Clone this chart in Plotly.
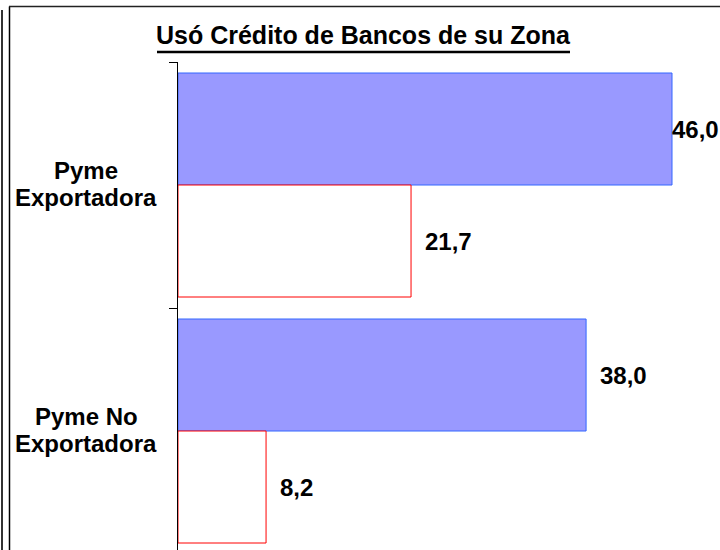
import plotly.graph_objects as go

# ---- data ----
categories = ["Pyme<br>Exportadora", "Pyme No<br>Exportadora"]
series_blue = [46.0, 38.0]
series_red = [21.7, 8.2]
title_text = "Usó Crédito de Bancos de su Zona"

# ---- layout geometry ----
W, H = 720, 550
ML, MR, MT, MB = 178, 0, 62, 0
PW, PH = W - ML - MR, H - MT - MB
PX_PER_UNIT = 494 / 46.0
XMAX = PW / PX_PER_UNIT
CAT_PX = 246.0
Y_BOTTOM = -0.5 + PH / CAT_PX
BARGAP = 1 - 224 / CAT_PX
BAR_W = (1 - BARGAP) / 2

FONT = "Liberation Sans, Arial, sans-serif"
FS = 24

ypos = list(range(len(categories)))

fig = go.Figure()
fig.add_trace(go.Bar(
    y=ypos, x=series_blue, orientation="h",
    marker=dict(color="#9999FF", line=dict(color="#3366FF", width=1)),
    hoverinfo="skip", showlegend=False,
))
fig.add_trace(go.Bar(
    y=ypos, x=series_red, orientation="h",
    marker=dict(color="#FFFFFF", line=dict(color="#FF0000", width=1)),
    hoverinfo="skip", showlegend=False,
))

annotations = []


def value_label(val, yc):
    txt = f"{val:.1f}".replace(".", ",")
    est_w = (len(txt) - 1) * 0.556 * FS + 0.278 * FS  # approx bold width
    px_end = ML + val * PX_PER_UNIT
    shift = 12
    if px_end + shift + est_w > W - 3:
        shift = (W - 3 - est_w) - px_end
    annotations.append(dict(
        x=val, y=yc, xref="x", yref="y", text=f"<b>{txt}</b>",
        showarrow=False, xanchor="left", yanchor="middle", xshift=shift,
        font=dict(family=FONT, size=FS, color="black"),
    ))


for i in ypos:
    value_label(series_blue[i], i - BAR_W / 2)
    value_label(series_red[i], i + BAR_W / 2)

# category labels (each line separately for tighter spacing)
for i, cat in enumerate(categories):
    lines = cat.split("<br>")
    n = len(lines)
    for j, ln in enumerate(lines):
        annotations.append(dict(
            x=(86 - ML) / PW, y=i, xref="paper", yref="y",
            text=f"<b>{ln}</b>", showarrow=False,
            xanchor="center", yanchor="middle",
            yshift=(n - 1) / 2 * 27 - j * 27 + 1,
            font=dict(family=FONT, size=FS, color="black"),
        ))


def px2x(px):
    return (px - ML) / PW


def py2y(py):
    return (H - MB - py) / PH


# title
annotations.append(dict(
    x=px2x(363), y=py2y(35), xref="paper", yref="paper",
    text=f"<b>{title_text}</b>", showarrow=False,
    xanchor="center", yanchor="middle",
    font=dict(family=FONT, size=25, color="black"),
))

shapes = [
    # title underline
    dict(type="line", xref="paper", yref="paper",
         x0=px2x(157), x1=px2x(570), y0=py2y(52), y1=py2y(52),
         line=dict(color="black", width=2.5)),
    # frame lines
    dict(type="line", xref="paper", yref="paper",
         x0=px2x(2), x1=px2x(2), y0=py2y(10), y1=py2y(560),
         line=dict(color="#333333", width=2)),
    dict(type="line", xref="paper", yref="paper",
         x0=px2x(9.5), x1=px2x(9.5), y0=py2y(6.5), y1=py2y(560),
         line=dict(color="black", width=1.5)),
    dict(type="line", xref="paper", yref="paper",
         x0=px2x(9), x1=px2x(725), y0=py2y(6.5), y1=py2y(6.5),
         line=dict(color="#222222", width=1.5)),
]

fig.update_layout(
    width=W, height=H,
    margin=dict(l=ML, r=MR, t=MT, b=MB, pad=0),
    paper_bgcolor="white", plot_bgcolor="white",
    barmode="group", bargap=BARGAP, bargroupgap=0,
    showlegend=False,
    xaxis=dict(visible=False, range=[0, XMAX], fixedrange=True),
    yaxis=dict(
        range=[Y_BOTTOM, -0.5], tickvals=[-0.5, 0.5], showticklabels=False,
        ticks="outside", ticklen=8, tickcolor="black", tickwidth=1,
        showline=True, linecolor="black", linewidth=1,
        showgrid=False, zeroline=False, fixedrange=True,
    ),
    annotations=annotations,
    shapes=shapes,
    font=dict(family=FONT),
)

fig.write_html(
    "out.html",
    config={"displayModeBar": False},
    post_script="document.body.style.margin='0';document.body.style.overflow='hidden';",
)
